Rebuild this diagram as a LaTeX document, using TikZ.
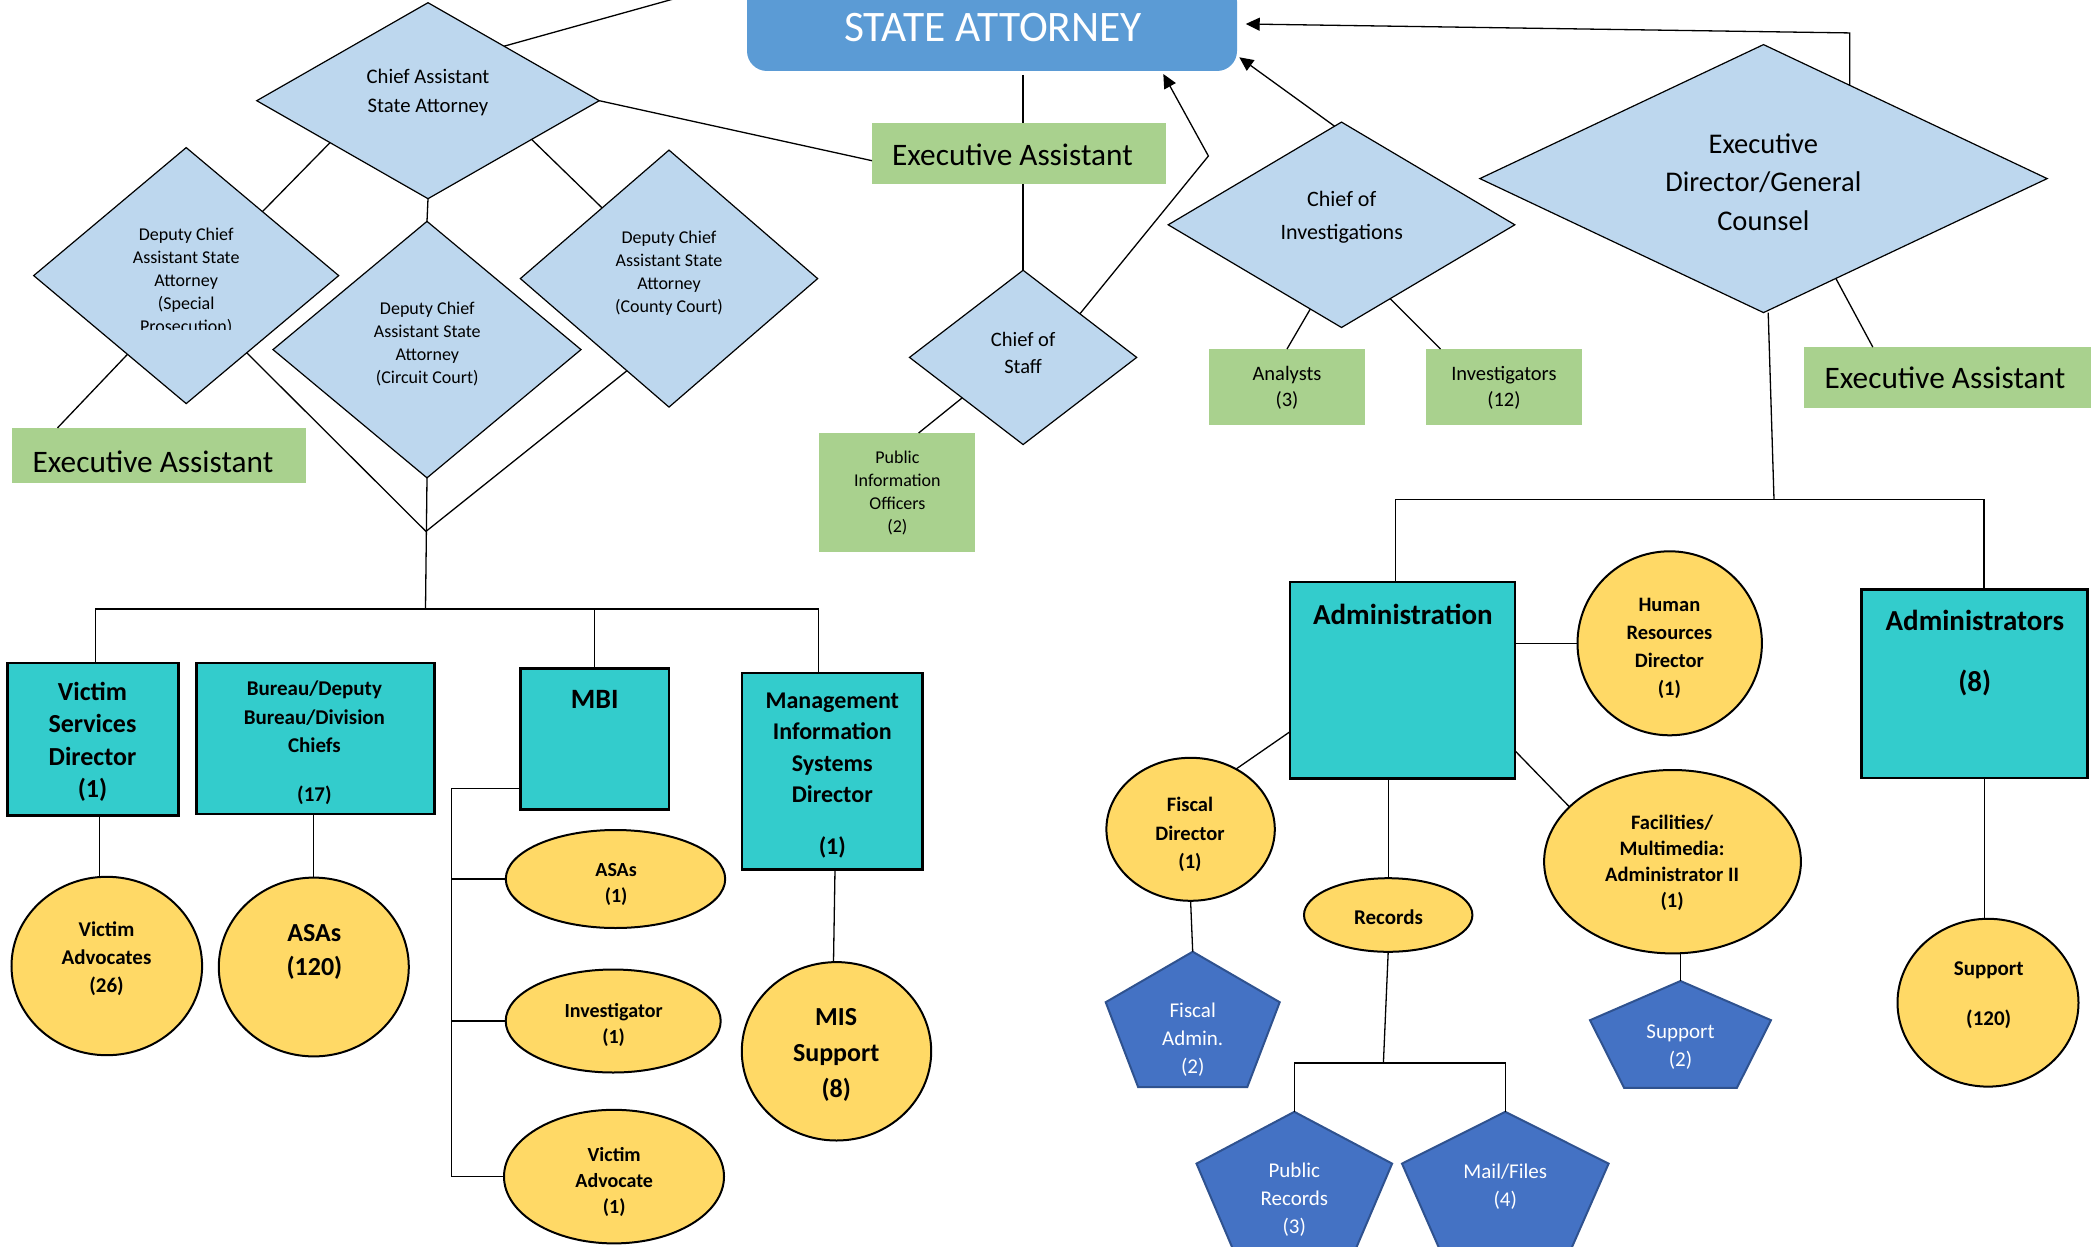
\documentclass[tikz,border=0pt]{standalone}
\usepackage{fontspec}
\setmainfont{Carlito}
\usetikzlibrary{shapes.geometric,arrows.meta,calc}

\definecolor{saBlue}{HTML}{5B9BD5}
\definecolor{dmBlue}{HTML}{BDD7EE}
\definecolor{exGreen}{HTML}{A9D18E}
\definecolor{boxTeal}{HTML}{33CCCC}
\definecolor{ovYellow}{HTML}{FFD966}
\definecolor{pnBlue}{HTML}{4472C4}
\definecolor{pnEdge}{HTML}{2F528F}

\newcommand{\fz}[2]{\fontsize{#1pt}{#2pt}\selectfont}
% squashed pentagon: name, centre x, top y, side y, side half-width, base y, base half-width
\newcommand{\pentagon}[7]{%
  \path[pentshape] (#2,#3) -- (#2+#5,#4) -- (#2+#7,#6) -- (#2-#7,#6) -- (#2-#5,#4) -- cycle;
  \coordinate (#1-top) at (#2,#3);
}

\begin{document}
\begin{tikzpicture}[x=1pt,y=-1pt,
  link/.style={line width=1.3pt, draw=black},
  arr/.style={link, -{Triangle[length=14pt,width=13pt]}},
  dmd/.style={diamond, draw=black, line width=1.2pt, fill=dmBlue, inner sep=0pt, outer sep=0pt},
  greenbox/.style={rectangle, fill=exGreen, inner sep=0pt, outer sep=0pt},
  tealbox/.style={rectangle, draw=black, line width=2.5pt, fill=boxTeal, inner sep=0pt, outer sep=0pt},
  oval/.style={ellipse, draw=black, line width=2pt, fill=ovYellow, inner sep=0pt, outer sep=0pt},
  pentshape/.style={fill=pnBlue, draw=pnEdge, line width=2pt, line join=miter},
  txt/.style={inner sep=0pt, align=center, yshift=-2pt},
  eatxt/.style={inner sep=0pt, anchor=west, font=\fz{31.3}{36}},
  btxt/.style={txt, font=\bfseries},
]
\useasboundingbox (0,0) rectangle (2091,1247);
\clip (0,0) rectangle (2091,1247);

% ---------- head ----------
\node[rectangle, rounded corners=20pt, fill=saBlue, inner sep=0pt, outer sep=0pt,
      minimum width=490pt, minimum height=89.4pt] (sa) at (992,26.3) {};
\node[inner sep=0pt, text=white, font=\fz{43.5}{50}] (sa-t) at (993,28) {STATE ATTORNEY};

% ---------- diamonds ----------
\node[dmd, minimum width=342.5pt, minimum height=196pt] (ca) at (428,100.7) {};
\node[dmd, minimum width=305pt, minimum height=256pt] (ds) at (186.2,275.6) {};
\node[dmd, minimum width=308pt, minimum height=256.5pt] (dc) at (427,349.6) {};
\node[dmd, minimum width=297.3pt, minimum height=257pt] (dy) at (669,278.6) {};
\node[dmd, minimum width=227.2pt, minimum height=174.3pt] (cos) at (1023.1,357.4) {};
\node[dmd, minimum width=346.6pt, minimum height=205.4pt] (ci) at (1341.5,224.8) {};
\node[dmd, minimum width=567.3pt, minimum height=268pt] (ed) at (1763.5,178.6) {};

\node[txt, font=\fz{20.7}{28.6}] (ca-t) at (428,90.3) {Chief Assistant\\State Attorney};
\begin{scope}
  \clip (0,0) rectangle (2091,329.3);
  \node[txt, font=\fz{18}{23}] (ds-t) at (186.2,279) {Deputy Chief\\Assistant State\\Attorney\\(Special\\Prosecution)};
\end{scope}
\node[txt, font=\fz{18}{22.9}] (dc-t) at (427.3,342.1) {Deputy Chief\\Assistant State\\Attorney\\(Circuit Court)};
\node[txt, font=\fz{18}{23}] (dy-t) at (669,270.9) {Deputy Chief\\Assistant State\\Attorney\\(County Court)};
\node[txt, font=\fz{20.5}{27.5}] (cos-t) at (1023.1,351.2) {Chief of\\Staff};
\node[txt, font=\fz{22}{33}] (ci-t) at (1341.7,215.5) {Chief of\\Investigations};
\node[txt, font=\fz{28.5}{38.4}] (ed-t) at (1763.3,180.2) {Executive\\Director/General\\Counsel};

% ---------- green boxes ----------
\node[greenbox, minimum width=294pt, minimum height=61pt] (eaT) at (1019,153.5) {};
\node[greenbox, minimum width=294pt, minimum height=55pt] (eaL) at (159.2,455.4) {};
\node[greenbox, minimum width=296.4pt, minimum height=60.4pt] (eaR) at (1951.8,377.3) {};
\node[greenbox, minimum width=156pt, minimum height=119pt] (pio) at (897,492.5) {};
\node[greenbox, minimum width=155.6pt, minimum height=76pt] (an) at (1287,387) {};
\node[greenbox, minimum width=156.4pt, minimum height=76pt] (inv) at (1503.9,387) {};

\node[eatxt] (eaT-t) at (892,155) {Executive Assistant};
\node[eatxt] (eaL-t) at (32.5,461.3) {Executive Assistant};
\node[eatxt] (eaR-t) at (1824.5,378) {Executive Assistant};
\node[txt, font=\fz{18}{22.9}] (pio-t) at (897.4,490.7) {Public\\Information\\Officers\\(2)};
\node[txt, font=\fz{20.5}{26}] (an-t) at (1287,386.2) {Analysts\\(3)};
\node[txt, font=\fz{20.5}{26}] (inv-t) at (1503.9,386.2) {Investigators\\(12)};

% ---------- teal boxes ----------
\node[tealbox, minimum width=171pt, minimum height=152.4pt] (vsd) at (93.2,739.2) {};
\node[tealbox, minimum width=238pt, minimum height=150.7pt] (bur) at (315.4,738.4) {};
\node[tealbox, minimum width=148.6pt, minimum height=141.1pt] (mbi) at (594.7,738.8) {};
\node[tealbox, minimum width=180.5pt, minimum height=196.3pt] (mis) at (832,771.2) {};
\node[tealbox, minimum width=224.7pt, minimum height=196.6pt] (ad) at (1402.5,680.2) {};
\node[tealbox, minimum width=226pt, minimum height=188.5pt] (as) at (1974.5,683.9) {};

\node[btxt, font=\bfseries\fz{26}{32.4}] (vsd-t) at (92.5,740) {Victim\\Services\\Director\\(1)};
\node[btxt, font=\bfseries\fz{21}{28.3}] (bur-t) at (314.4,740.8) {Bureau/Deputy\\Bureau/Division\\Chiefs\\[20.7pt](17)};
\node[btxt, font=\bfseries\fz{28}{34}] (mbi-t) at (594.7,697.5) {MBI};
\node[btxt, font=\bfseries\fz{24}{31.5}] (mis-t) at (832.3,773.6) {Management\\Information\\Systems\\Director\\[20.7pt](1)};
\node[btxt, font=\bfseries\fz{29}{35}] (ad-t) at (1402.9,612.1) {Administration};
\node[btxt, font=\bfseries\fz{29}{35}] (as-t) at (1974.8,650.7) {Administrators\\[25.8pt](8)};

% ---------- yellow ovals ----------
\node[oval, minimum width=190.6pt, minimum height=178.4pt] (va) at (106.8,966) {};
\node[oval, minimum width=190pt, minimum height=178.8pt] (asa) at (313.8,967) {};
\node[oval, minimum width=219.4pt, minimum height=98pt] (asa1) at (615.5,879) {};
\node[oval, minimum width=215pt, minimum height=103pt] (invx) at (613.2,1021) {};
\node[oval, minimum width=220pt, minimum height=133.6pt] (vadv) at (614,1176.6) {};
\node[oval, minimum width=189.4pt, minimum height=178.4pt] (mss) at (836.5,1051.3) {};
\node[oval, minimum width=184.4pt, minimum height=184pt] (hr) at (1669.7,643.3) {};
\node[oval, minimum width=168.4pt, minimum height=143pt] (fd) at (1190.6,829.3) {};
\node[oval, minimum width=168.4pt, minimum height=73.6pt] (rec) at (1388.2,915) {};
\node[oval, minimum width=256.8pt, minimum height=183.4pt] (fac) at (1672.5,861.7) {};
\node[oval, minimum width=181pt, minimum height=167.8pt] (sup) at (1988,1002.7) {};

\node[btxt, font=\bfseries\fz{21}{28}] (va-t) at (106.5,956.5) {Victim\\Advocates\\(26)};
\node[btxt, font=\bfseries\fz{26}{34}] (asa-t) at (314.4,950.4) {ASAs\\(120)};
\node[btxt, font=\bfseries\fz{20}{26}] (asa1-t) at (616.1,882.7) {ASAs\\(1)};
\node[btxt, font=\bfseries\fz{20}{26}] (invx-t) at (613.6,1023.1) {Investigator\\(1)};
\node[btxt, font=\bfseries\fz{20}{26}] (vadv-t) at (614.2,1180.4) {Victim\\Advocate\\(1)};
\node[btxt, font=\bfseries\fz{26}{36}] (mss-t) at (836.2,1052.9) {MIS\\Support\\(8)};
\node[btxt, font=\bfseries\fz{20.5}{28}] (hr-t) at (1669.4,646) {Human\\Resources\\Director\\(1)};
\node[btxt, font=\bfseries\fz{20.5}{28.6}] (fd-t) at (1190,832.4) {Fiscal\\Director\\(1)};
\node[btxt, font=\bfseries\fz{21}{28}] (rec-t) at (1388.6,914.7) {Records};
\node[btxt, font=\bfseries\fz{20.5}{25.8}] (fac-t) at (1672.1,861) {Facilities/\\Multimedia:\\Administrator II\\(1)};
\node[btxt, font=\bfseries\fz{21}{28}] (sup-t) at (1988.7,993.2) {Support\\[21.6pt](120)};

% ---------- blue pentagons ----------
\pentagon{fa}{1192.7}{951.7}{1002.2}{87}{1087}{54.6}
\pentagon{pr}{1294.3}{1111.8}{1163.6}{97.8}{1250}{61}
\pentagon{mf}{1505.3}{1111.8}{1163.6}{103.3}{1250}{65.4}
\pentagon{sp}{1680.5}{981}{1020.2}{90.5}{1087.8}{56.4}

\node[txt, text=white, font=\fz{21}{27.8}] (fa-t) at (1192.7,1037.6) {Fiscal\\Admin.\\(2)};
\node[txt, text=white, font=\fz{21}{28}] (pr-t) at (1294.3,1197.4) {Public\\Records\\(3)};
\node[txt, text=white, font=\fz{21}{28}] (mf-t) at (1505.3,1184.4) {Mail/Files\\(4)};
\node[txt, text=white, font=\fz{21}{28}] (sp-t) at (1680.5,1045.5) {Support\\(2)};

% ---------- junction points ----------
\coordinate (caUp) at (747,-21.5);
\coordinate (vtx) at (426,531.4);
\coordinate (lbus) at (425.5,609);
\coordinate (mbrk) at (451.6,788.7);
\coordinate (cosBend) at (1208.4,156);
\coordinate (rbus) at (1774,499.7);
\coordinate (recBus) at (1383.4,1063);

% ---------- connectors: left branch ----------
\draw[link] ($(ca.north)!0.444!(ca.east)$) -- (caUp);
\draw[link] (ca.east) -- ([yshift=-7.2pt]eaT.west);
\draw[link] ($(ca.west)!0.428!(ca.south)$) -- ($(ds.north)!0.5!(ds.east)$);
\draw[link] (ca.south) -- (dc.north);
\draw[link] ($(ca.south)!0.605!(ca.east)$) -- ($(dy.west)!0.55!(dy.north)$);
\draw[link] ($(ds.west)!0.615!(ds.south)$) -- ([xshift=45.3pt]eaL.north west);
\draw[link] ($(ds.south)!0.397!(ds.east)$) -- (vtx);
\draw[link] ($(dy.west)!0.717!(dy.south)$) -- (vtx);
\draw[link] (dc.south) -- (lbus);
\draw[link] ([xshift=2.5pt]vsd.north) |- ([xshift=-13.7pt]mis.north |- lbus) -- ([xshift=-13.7pt]mis.north);
\draw[link] (mbi.north |- lbus) -- (mbi.north);
\draw[link] ([xshift=6.3pt]vsd.south) -- ([xshift=-7.3pt]va.north);
\draw[link] (asa.north |- bur.south) -- (asa.north);
\draw[link] ([yshift=-49.9pt]mbi.west) -| (vadv.west -| mbrk) -- (vadv.west);
\draw[link] (asa1.west -| mbrk) -- (asa1.west);
\draw[link] (invx.west -| mbrk) -- (invx.west);
\draw[link] ([xshift=3pt]mis.south) -- ([xshift=-3pt]mss.north);

% ---------- connectors: centre and right branch ----------
\draw[link] ([yshift=-4pt]cos.north |- sa.south) -- (cos.north |- eaT.north);
\draw[link] (cos.north |- eaT.south) -- (cos.north);
\draw[link] ($(cos.west)!0.464!(cos.south)$) -- ([xshift=21.6pt]pio.north);
\draw[arr] ($(cos.north)!0.5!(cos.east)$) -- (cosBend) -- ([xshift=-73.7pt,yshift=-3pt]sa.south east);
\draw[arr] ($(ci.north)!0.04!(ci.west)$) -- ([xshift=2.3pt,yshift=13.7pt]sa.south east);
\draw[arr] ($(ed.north)!0.304!(ed.east)$) -- ++(0,-52.4) -- ([xshift=8.7pt,yshift=2.3pt]sa.east);
\draw[link] ($(ci.west)!0.82!(ci.south)$) -- (an.north);
\draw[link] ($(ci.south)!0.281!(ci.east)$) -- ([xshift=14.8pt]inv.north west);
\draw[link] ($(ed.south)!0.255!(ed.east)$) -- ([xshift=69.2pt]eaR.north west);
\draw[link] ([xshift=4.7pt]ed.south) -- (rbus);
\draw[link] ([xshift=-7pt]ad.north) |- ([xshift=9.5pt]as.north |- rbus) -- ([xshift=9.5pt]as.north);
\draw[link] (ad.east |- hr.west) -- (hr.west);
\draw[link] ([yshift=-51.4pt]ad.west) -- (fd.53);
\draw[link] (rec.north |- ad.south) -- (rec.north);
\draw[link] ([yshift=-70.4pt]ad.east) -- (fac.152);
\draw[link] (fd.south) -- (fa-top);
\draw[link] (rec.south) -- (recBus);
\draw[link] (pr-top) |- (mf-top |- recBus) -- (mf-top);
\draw[link] (sp-top |- fac.south) -- (sp-top);
\draw[link] ([xshift=10pt]as.south) -- ([xshift=-3.5pt]sup.north);
\end{tikzpicture}
\end{document}
